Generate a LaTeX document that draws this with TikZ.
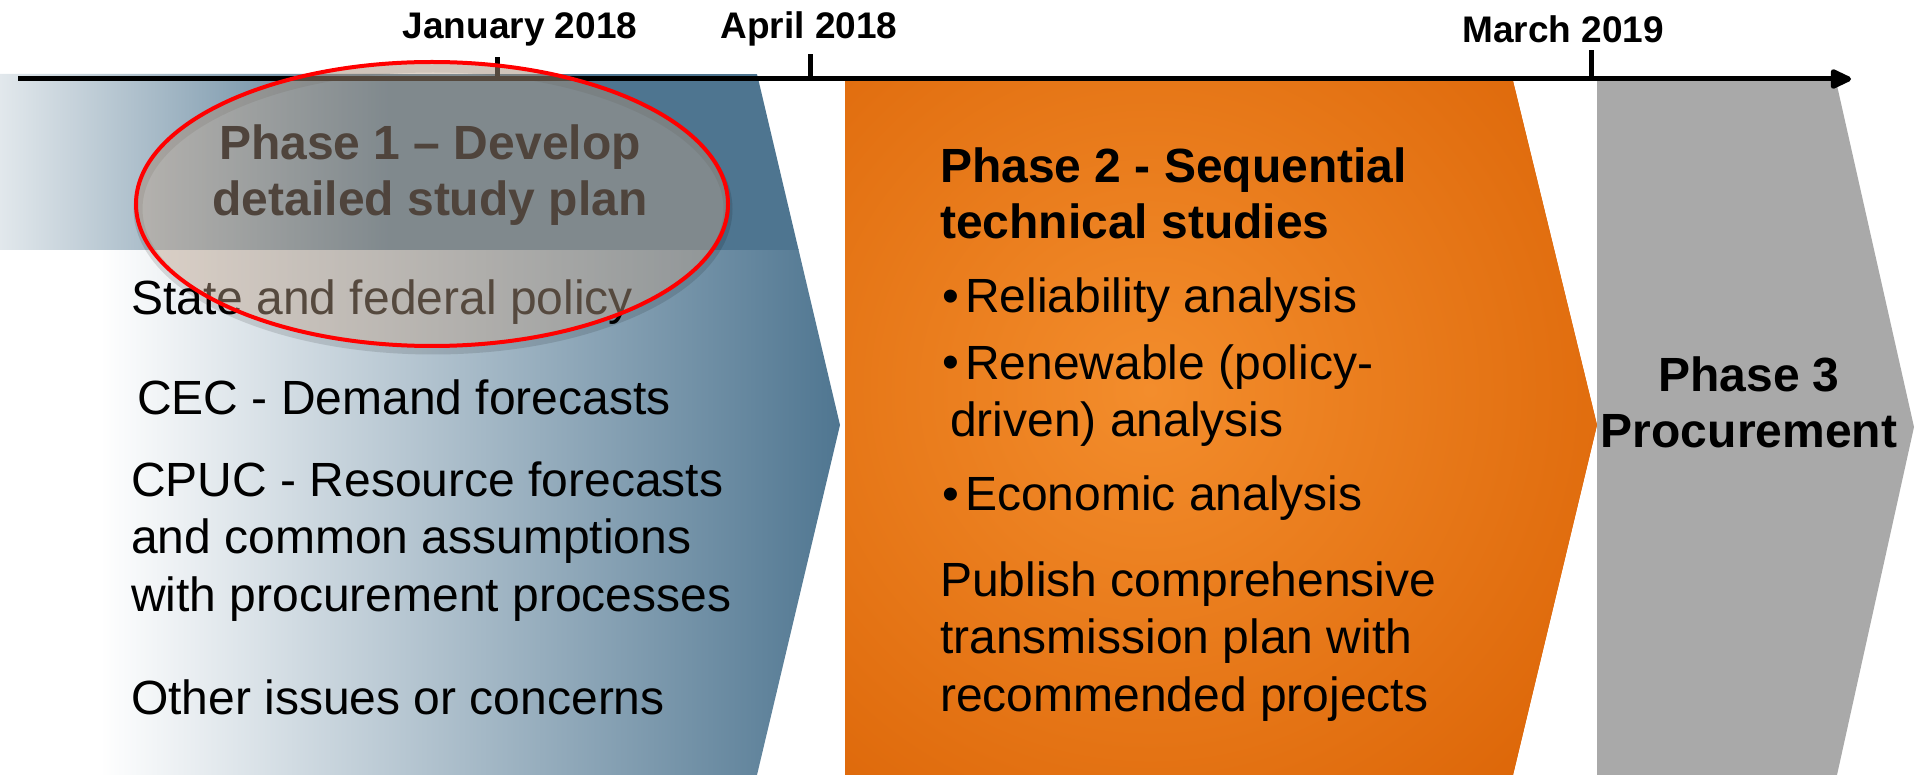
\documentclass[tikz,border=0pt]{standalone}
\usepackage{fontspec}
\setmainfont{Liberation Sans}
\usetikzlibrary{arrows.meta,shapes.geometric}

\definecolor{oneblue}{HTML}{4E7590}
\definecolor{bandlight}{HTML}{E2E8EC}
\definecolor{lowmid}{HTML}{E0E5E9}
\definecolor{orlight}{HTML}{F38D2C}
\definecolor{ordark}{HTML}{DC6507}
\definecolor{threegray}{HTML}{A9A9A9}
\definecolor{ringfill}{HTML}{BDA28B}
\definecolor{ringtext}{HTML}{4F443C}

\begin{document}
\begin{tikzpicture}[x=1pt,y=-1pt,
	text_node/.style={font=\fontsize{48}{57.5}\selectfont,anchor=base west,align=left,inner sep=0pt},
	head_node/.style={text_node,font=\fontsize{48}{56.5}\selectfont\bfseries},
	date_node/.style={font=\fontsize{37}{44}\selectfont\bfseries,anchor=base,inner sep=0pt},
	ring_node/.style={ellipse,draw=red,line width=4pt,fill=ringfill,fill opacity=0.45,minimum width=592pt,minimum height=284pt,inner sep=0pt}]

		\useasboundingbox (0,0) rectangle (1915,775);

		% phase 1
		\begin{scope}
			\clip (0,74) -- (757,74) -- (840,425) -- (757,775) -- (0,775) -- cycle;
			\fill[white] (0,250) rectangle (100,775);
			\shade[left color=white,middle color=lowmid,right color=oneblue] (100,250) rectangle (845,775);
			\shade[left color=bandlight,right color=oneblue] (0,74) rectangle (390,250);
			\fill[oneblue] (390,74) rectangle (845,250);
		\end{scope}

		% phase 2
		\begin{scope}
			\clip (845,81) -- (1513,81) -- (1597,425) -- (1513,775) -- (845,775) -- cycle;
			\fill[ordark] (845,81) rectangle (1600,775);
			\shade[inner color=orlight,outer color=ordark] (1150,390) circle (560);
		\end{scope}

		% phase 3
		\fill[threegray] (1597,81) -- (1836,81) -- (1914,427) -- (1837,775) -- (1597,775) -- cycle;

		% time line
		\coordinate (t_start) at (18,79);
		\coordinate (t_end) at (1851,79);
		\coordinate (jan) at (497,79);
		\coordinate (apr) at (810,79);
		\coordinate (mar) at (1591,79);
		\draw[line width=5pt,-{Triangle[length=24pt,width=21pt,round]}] (t_start) -- (t_end);
		\draw[line width=5pt] (jan) -- ++(0,-22);
		\draw[line width=5pt] (apr) -- ++(0,-25);
		\draw[line width=5pt] (mar) -- ++(0,-29);

		\node[date_node] (jan_label) at (520,39) {January 2018};
		\node[date_node] (apr_label) at (809,39) {April 2018};
		\node[date_node] (mar_label) at (1563,43) {March 2019};

		% inputs of phase 1
		\node[text_node] (policy) at (131,315) {State and federal policy};
		\node[text_node] (cec) at (137,415) {CEC - Demand forecasts};
		\node[text_node] (cpuc) at (131,611) {CPUC - Resource forecasts\\and common assumptions\\with procurement processes};
		\node[text_node] (other) at (131,714) {Other issues or concerns};

		\draw[black,opacity=0.12,line width=9pt] (433,209) ellipse [x radius=295, y radius=141];
		\node[ring_node] (ring) at (432,204) {};
		\node[head_node,anchor=base,align=center,text=ringtext] (one_title) at (430,216) {Phase 1 -- Develop\\detailed study plan};

		% phase 2 texts
		\node[head_node] (two_title) at (940,239) {Phase 2 - Sequential\\technical studies};
		\node[text_node] (b1) at (942,313) {\textbullet};
		\node[text_node] (reliab) at (965,313) {Reliability analysis};
		\node[text_node] (b2) at (942,379) {\textbullet};
		\node[text_node] (renew) at (965,437) {Renewable (policy-\\\hspace*{-15pt}driven) analysis};
		\node[text_node] (b3) at (942,510) {\textbullet};
		\node[text_node] (econ) at (965,510) {Economic analysis};
		\node[text_node] (publish) at (940,711) {Publish comprehensive\\transmission plan with\\recommended projects};

		% phase 3
		\node[head_node,anchor=base,align=center] (three_title) at (1749,448) {Phase 3\\Procurement};
		\end{tikzpicture}
\end{document}
